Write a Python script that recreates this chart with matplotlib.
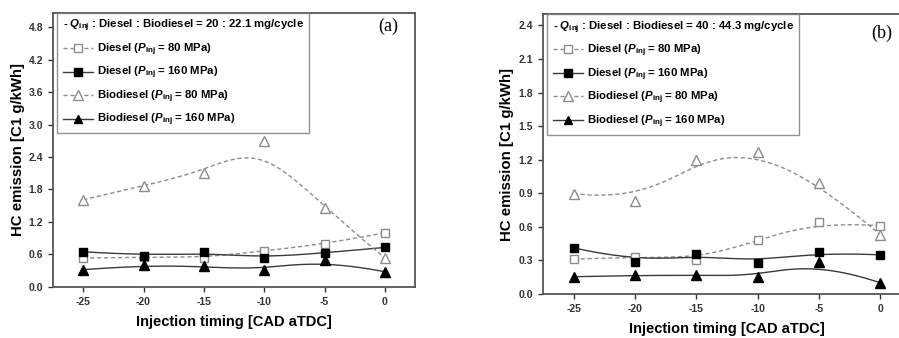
import matplotlib
matplotlib.use("Agg")
import matplotlib.pyplot as plt
import numpy as np
from matplotlib.lines import Line2D

plt.rcParams['font.family'] = ['Liberation Sans', 'DejaVu Sans']
plt.rcParams['font.weight'] = 'bold'
plt.rcParams['mathtext.fontset'] = 'custom'
plt.rcParams['mathtext.rm'] = 'Liberation Sans:bold'
plt.rcParams['mathtext.bf'] = 'Liberation Sans:bold'
plt.rcParams['mathtext.it'] = 'Liberation Sans:italic:bold'

timing = [-25, -20, -15, -10, -5, 0]

# panel (a): 20 : 22.1 mg/cycle
a_diesel_80 = [0.535, 0.55, 0.535, 0.67, 0.79, 1.00]
a_diesel_160 = [0.65, 0.58, 0.64, 0.53, 0.63, 0.73]
a_bio_80 = [1.61, 1.87, 2.11, 2.70, 1.45, 0.535]
a_bio_160 = [0.32, 0.40, 0.38, 0.31, 0.50, 0.28]

# panel (b): 40 : 44.3 mg/cycle
b_diesel_80 = [0.312, 0.333, 0.306, 0.48, 0.648, 0.61]
b_diesel_160 = [0.413, 0.29, 0.357, 0.28, 0.375, 0.35]
b_bio_80 = [0.898, 0.83, 1.20, 1.27, 0.99, 0.53]
b_bio_160 = [0.155, 0.166, 0.17, 0.155, 0.285, 0.10]

a_ticks = [0.0, 0.6, 1.2, 1.8, 2.4, 3.0, 3.6, 4.2, 4.8]
b_ticks = [0.0, 0.3, 0.6, 0.9, 1.2, 1.5, 1.8, 2.1, 2.4]

labels = [r"Diesel ($P_{\rm inj}$ = 80 MPa)",
          r"Diesel ($P_{\rm inj}$ = 160 MPa)",
          r"Biodiesel ($P_{\rm inj}$ = 80 MPa)",
          r"Biodiesel ($P_{\rm inj}$ = 160 MPa)"]

GRAY = '#8c8c8c'
DARK = '#3a3a3a'


def bspline(xs, ys, n=200, k=3):
    # clamped B-spline with the data points as control points (Origin style)
    cp = np.column_stack([xs, ys]).astype(float)
    m = len(cp)
    knots = np.concatenate([np.zeros(k), np.linspace(0, 1, m - k + 1), np.ones(k)])
    t = np.linspace(0, 1 - 1e-9, n)
    N = np.zeros((n, len(knots) - 1))
    for i in range(len(knots) - 1):
        N[:, i] = (t >= knots[i]) & (t < knots[i + 1])
    for d in range(1, k + 1):
        Nn = np.zeros((n, len(knots) - 1 - d))
        for i in range(len(knots) - 1 - d):
            left = 0.0
            den1 = knots[i + d] - knots[i]
            if den1 > 0:
                left = (t - knots[i]) / den1 * N[:, i]
            right = 0.0
            den2 = knots[i + d + 1] - knots[i + 1]
            if den2 > 0:
                right = (knots[i + d + 1] - t) / den2 * N[:, i + 1]
            Nn[:, i] = left + right
        N = Nn
    pts = N @ cp
    return pts[:, 0], pts[:, 1]


def draw_panel(ax, series, yticks, ylim, title, tag, tagpos):
    styles = [
        dict(ls=(0, (3, 2)), color=GRAY, marker='s', mfc='white', mec=GRAY, ms=6),
        dict(ls='-', color=DARK, marker='s', mfc='black', mec='black', ms=6),
        dict(ls=(0, (3, 2)), color=GRAY, marker='^', mfc='white', mec=GRAY, ms=7),
        dict(ls='-', color=DARK, marker='^', mfc='black', mec='black', ms=6.5),
    ]
    handles = []
    for vals, st, lab in zip(series, styles, labels):
        sx, sy = bspline(timing, vals)
        ax.plot(sx, sy, ls=st['ls'], color=st['color'], lw=1.0, zorder=2)
        ax.plot(timing, vals, ls='none', marker=st['marker'], mfc=st['mfc'],
                mec=st['mec'], ms=st['ms'], mew=1.0, zorder=3)
        handles.append(Line2D([], [], ls=st['ls'], color=st['color'], lw=1.0,
                              marker=st['marker'], mfc=st['mfc'], mec=st['mec'],
                              ms=st['ms'] - 0.5, mew=1.0, label=lab))

    ax.set_xlim(-27.5, 2.5)
    ax.set_ylim(*ylim)
    ax.set_xticks(timing)
    ax.set_xticklabels([str(t) for t in timing])
    ax.set_yticks(yticks)
    ax.set_yticklabels([f"{v:.1f}" for v in yticks])
    ax.tick_params(direction='out', length=3.5, width=1.0, labelsize=7.5, colors='#333333')
    for s in ax.spines.values():
        s.set_linewidth(1.3)
        s.set_color('#555555')
    ax.set_xlabel("Injection timing [CAD aTDC]", fontsize=10.5, fontweight='bold', labelpad=6)
    ax.set_ylabel("HC emission [C1 g/kWh]", fontsize=10.8, fontweight='bold', labelpad=3)

    leg = ax.legend(handles=handles, loc='upper left', bbox_to_anchor=(0.012, 1.0),
                    title=title, alignment='left', fontsize=8.2, title_fontsize=8.2,
                    frameon=True, fancybox=False, edgecolor='#777777',
                    handlelength=2.7, handletextpad=0.3, labelspacing=0.62,
                    borderpad=0.45, borderaxespad=0.0)
    leg.get_frame().set_linewidth(1.0)
    leg.get_title().set_fontweight('bold')

    ax.text(tagpos[0], tagpos[1], tag, transform=ax.transAxes, fontsize=13,
            family='Liberation Serif', fontweight='normal', ha='center', va='center')


fig = plt.figure(figsize=(8.99, 3.38), dpi=100)
ax1 = fig.add_axes([0.059, 0.151, 0.4027, 0.8107])
ax2 = fig.add_axes([0.604, 0.130, 0.4094, 0.828])

draw_panel(ax1, [a_diesel_80, a_diesel_160, a_bio_80, a_bio_160], a_ticks, (0, 5.06),
           r"- $Q_{\rm inj}$ : Diesel : Biodiesel = 20 : 22.1 mg/cycle", "(a)", (0.925, 0.95))
draw_panel(ax2, [b_diesel_80, b_diesel_160, b_bio_80, b_bio_160], b_ticks, (0, 2.5),
           r"- $Q_{\rm inj}$ : Diesel : Biodiesel = 40 : 44.3 mg/cycle", "(b)", (0.92, 0.932))

fig.savefig("out.png", dpi=100)
